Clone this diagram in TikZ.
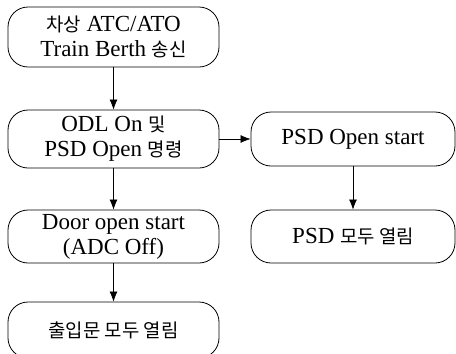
\documentclass[tikz,border=0pt]{standalone}
\usepackage{fontspec}
\setmainfont{Liberation Serif}
\newfontfamily\cjk[Scale=0.82]{Noto Sans CJK KR}
\usetikzlibrary{arrows.meta}
\begin{document}
\begin{tikzpicture}[x=1pt,y=-1pt,
  box/.style={draw, line width=0.8pt, rounded corners=20pt, align=center,
    inner sep=0pt, font=\fontsize{23}{25}\selectfont},
  conn/.style={draw, line width=0.7pt, -{Latex[length=10pt,width=8pt]}}]
\useasboundingbox (0,0) rectangle (456,354);
\node[box, minimum width=211pt, minimum height=60pt] (b1) at (113.5,37) {{\cjk 차상} ATC/ATO\\Train Berth {\cjk 송신}};
\node[box, minimum width=211pt, minimum height=58pt] (b2) at (113.5,139) {ODL On {\cjk 및}\\PSD Open {\cjk 명령}};
\node[box, minimum width=211pt, minimum height=53pt] (b3) at (113.5,236.5) {Door open start\\(ADC Off)};
\node[box, minimum width=211pt, minimum height=56pt] (b4) at (113.5,330) {\cjk 출입문 모두 열림};
\node[box, minimum width=204pt, minimum height=54pt] (b5) at (353,139) {PSD Open start};
\node[box, minimum width=204pt, minimum height=53pt] (b6) at (353,236.5) {PSD {\cjk 모두 열림}};
\draw[conn] (b1) -- (b2);
\draw[conn] (b2) -- (b3);
\draw[conn] (b3) -- (b4);
\draw[conn] (b2) -- (b5);
\draw[conn] (b5) -- (b6);
\end{tikzpicture}
\end{document}
